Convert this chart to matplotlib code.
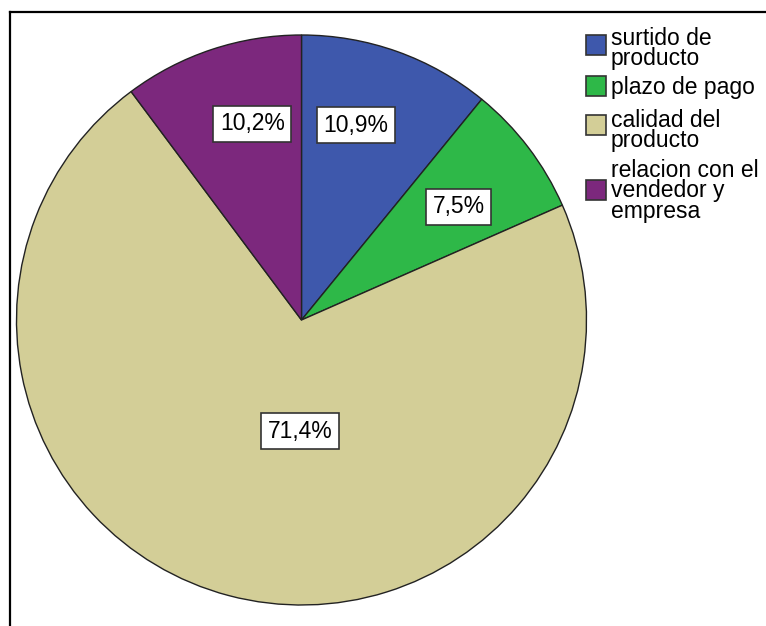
import matplotlib.pyplot as plt
import numpy as np
from matplotlib.patches import Rectangle
from matplotlib.lines import Line2D

# Datos
categorias = ['surtido de\nproducto', 'plazo de pago', 'calidad del\nproducto',
              'relacion con el\nvendedor y\nempresa']
porcentajes = [10.9, 7.5, 71.4, 10.2]
colores = ['#3E58AC', '#2EB848', '#D3CE97', '#7C287D']

plt.rcParams['font.family'] = ['Liberation Sans', 'DejaVu Sans']

W, H = 766, 626
fig = plt.figure(figsize=(W / 100, H / 100), dpi=100)

# pie: centro (301.5, 320) px, radio 285 px
cx, cy, r = 301.5, 320, 285
ax = fig.add_axes([(cx - r) / W, (H - cy - r) / H, 2 * r / W, 2 * r / H])
wedges, _ = ax.pie(porcentajes, colors=colores, startangle=90, counterclock=False,
                   wedgeprops=dict(edgecolor='#222222', linewidth=1.0))
ax.set_xlim(-1, 1)
ax.set_ylim(-1, 1)

# etiquetas de porcentaje
dist = [0.71, 0.68, 0.39, 0.71]
ajuste = [4, -1.5, 14, -4.3]
for w, p, d, a in zip(wedges, porcentajes, dist, ajuste):
    ang = np.deg2rad((w.theta1 + w.theta2) / 2 + a)
    ax.text(d * np.cos(ang), d * np.sin(ang), f'{p:.1f}%'.replace('.', ','),
            ha='center', va='center', fontsize=16.5,
            bbox=dict(boxstyle='square,pad=0.28', fc='white', ec='#333333', lw=1.2))

# leyenda manual
def fy(px):
    return 1 - px / H

patch_top = [35, 76, 115, 180]
text_top = [27, 76, 109, 159]
for col, cat, pt, tt in zip(colores, categorias, patch_top, text_top):
    fig.patches.append(Rectangle((586 / W, fy(pt + 20)), 20 / W, 20 / H,
                                 transform=fig.transFigure, fc=col,
                                 ec='#333333', lw=1.2))
    fig.text(611 / W, fy(tt), cat, fontsize=16.5, va='top', ha='left',
             linespacing=0.85)

# marco exterior
fig.add_artist(Line2D([9.5 / W, 9.5 / W], [0, fy(11.5)], color='black', lw=1.6,
                      transform=fig.transFigure))
fig.add_artist(Line2D([9.5 / W, 1], [fy(11.5), fy(11.5)], color='black', lw=1.6,
                      transform=fig.transFigure))

fig.savefig('out.png', dpi=100)
